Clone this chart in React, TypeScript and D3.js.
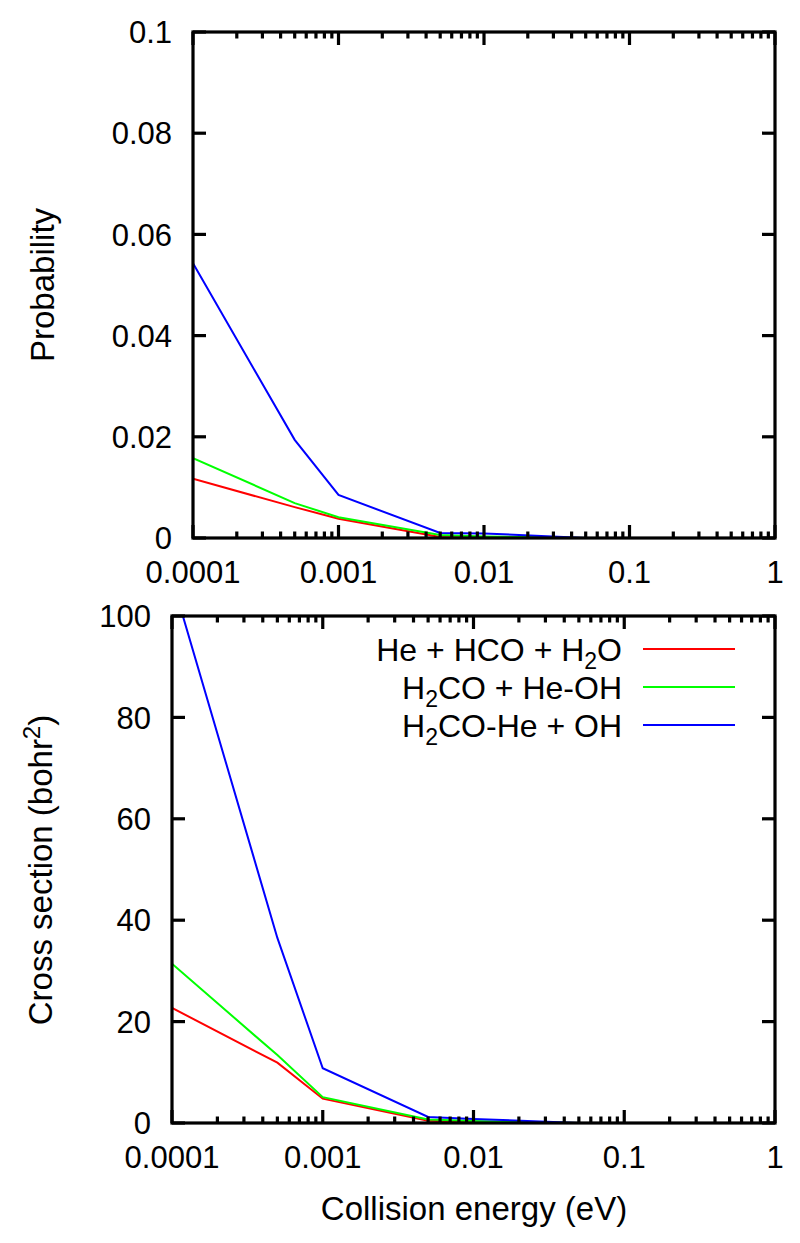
import React from "react";
import * as d3 from "d3";

const energies = [0.0001, 0.0005, 0.001, 0.005, 0.01, 0.05, 0.1, 0.5, 1];
const probRed = [0.0117, 0.0061, 0.0038, 0.0002, 0.0001, 0, 0, 0, 0];
const probGreen = [0.0158, 0.0069, 0.0041, 0.0006, 0.0003, 0, 0, 0, 0];
const probBlue = [0.0543, 0.0194, 0.0085, 0.001, 0.0009, 0, 0, 0, 0];
const csRed = [22.7, 11.9, 4.8, 0.45, 0.2, 0, 0, 0, 0];
const csGreen = [31.4, 13.4, 5.1, 0.7, 0.4, 0, 0, 0, 0];
const csBlue = [107.3, 36.5, 10.8, 1.2, 0.8, 0, 0, 0, 0];
const seriesColors = ["#ff0000", "#00ff00", "#0000ff"];
const xTickValues = [0.0001, 0.001, 0.01, 0.1, 1];
const xTickLabels = ["0.0001", "0.001", "0.01", "0.1", "1"];
const probTicks = [0, 0.02, 0.04, 0.06, 0.08, 0.1];
const probTickLabels = ["0", "0.02", "0.04", "0.06", "0.08", "0.1"];
const csTicks = [0, 20, 40, 60, 80, 100];
const csTickLabels = ["0", "20", "40", "60", "80", "100"];

const FONT = "'Liberation Sans', Arial, sans-serif";
const FS = 31;
const LFS = 32;
const AFS = 33;

type Panel = {
  left: number;
  right: number;
  top: number;
  bottom: number;
  yMax: number;
  yTicks: number[];
  yTickLabels: string[];
  series: number[][];
  id: string;
};

function PanelView({ p }: { p: Panel }) {
  const x = d3.scaleLog().domain([0.0001, 1]).range([p.left, p.right]);
  const y = d3.scaleLinear().domain([0, p.yMax]).range([p.bottom, p.top]);
  const line = d3
    .line<number>()
    .x((_, i) => x(energies[i]))
    .y((d) => y(d));
  const minor: number[] = [];
  for (let e = -4; e < 0; e++) {
    for (let k = 2; k <= 9; k++) minor.push(k * Math.pow(10, e));
  }
  const major = 13;
  const minLen = 6.5;
  const sw = 3.2;
  return (
    <g>
      <defs>
        <clipPath id={p.id}>
          <rect x={p.left} y={p.top} width={p.right - p.left} height={p.bottom - p.top} />
        </clipPath>
      </defs>
      <g clipPath={`url(#${p.id})`}>
        {p.series.map((s, i) => (
          <path key={i} d={line(s) || ""} fill="none" stroke={seriesColors[i]} strokeWidth={2} />
        ))}
      </g>
      {xTickValues.map((v, i) => (
        <g key={"xM" + i}>
          <line x1={x(v)} x2={x(v)} y1={p.bottom} y2={p.bottom - major} stroke="#000" strokeWidth={sw} />
          <line x1={x(v)} x2={x(v)} y1={p.top} y2={p.top + major} stroke="#000" strokeWidth={sw} />
        </g>
      ))}
      {minor.map((v, i) => (
        <g key={"xm" + i}>
          <line x1={x(v)} x2={x(v)} y1={p.bottom} y2={p.bottom - minLen} stroke="#000" strokeWidth={sw} />
          <line x1={x(v)} x2={x(v)} y1={p.top} y2={p.top + minLen} stroke="#000" strokeWidth={sw} />
        </g>
      ))}
      {p.yTicks.map((v, i) => (
        <g key={"y" + i}>
          <line x1={p.left} x2={p.left + major} y1={y(v)} y2={y(v)} stroke="#000" strokeWidth={sw} />
          <line x1={p.right} x2={p.right - major} y1={y(v)} y2={y(v)} stroke="#000" strokeWidth={sw} />
          <text x={p.left - 21} y={y(v)} dy="0.36em" textAnchor="end" fontSize={FS} fontFamily={FONT}>
            {p.yTickLabels[i]}
          </text>
        </g>
      ))}
      {xTickValues.map((v, i) => (
        <text key={"xl" + i} x={x(v)} y={p.bottom + 45} textAnchor="middle" fontSize={FS} fontFamily={FONT}>
          {xTickLabels[i]}
        </text>
      ))}
      <rect
        x={p.left}
        y={p.top}
        width={p.right - p.left}
        height={p.bottom - p.top}
        fill="none"
        stroke="#000"
        strokeWidth={sw}
      />
    </g>
  );
}

export default function App() {
  const top: Panel = {
    left: 193,
    right: 775,
    top: 32,
    bottom: 538,
    yMax: 0.1,
    yTicks: probTicks,
    yTickLabels: probTickLabels,
    series: [probRed, probGreen, probBlue],
    id: "clipTop",
  };
  const bot: Panel = {
    left: 172,
    right: 775,
    top: 616,
    bottom: 1123,
    yMax: 100,
    yTicks: csTicks,
    yTickLabels: csTickLabels,
    series: [csRed, csGreen, csBlue],
    id: "clipBot",
  };
  const legendRows = [649, 687, 725];
  const textEnd = 622;
  const subFs = 23;
  return (
    <svg width={800} height={1243} style={{ position: "absolute", left: 0, top: 0, background: "#fff" }}>
      <rect x={0} y={0} width={800} height={1243} fill="#fff" />
      <PanelView p={top} />
      <PanelView p={bot} />
      <text x={textEnd} y={legendRows[0]} dy="0.36em" textAnchor="end" fontSize={LFS} fontFamily={FONT}>
        <tspan>He + HCO + H</tspan>
        <tspan dy={8} fontSize={subFs}>2</tspan>
        <tspan dy={-8}>O</tspan>
      </text>
      <text x={textEnd} y={legendRows[1]} dy="0.36em" textAnchor="end" fontSize={LFS} fontFamily={FONT}>
        <tspan>H</tspan>
        <tspan dy={8} fontSize={subFs}>2</tspan>
        <tspan dy={-8}>CO + He-OH</tspan>
      </text>
      <text x={textEnd} y={legendRows[2]} dy="0.36em" textAnchor="end" fontSize={LFS} fontFamily={FONT}>
        <tspan>H</tspan>
        <tspan dy={8} fontSize={subFs}>2</tspan>
        <tspan dy={-8}>CO-He + OH</tspan>
      </text>
      {legendRows.map((ry, i) => (
        <line key={i} x1={643} x2={735} y1={ry} y2={ry} stroke={seriesColors[i]} strokeWidth={2} />
      ))}
      <text
        transform="translate(42,285) rotate(-90)"
        textAnchor="middle"
        dy="0.36em"
        fontSize={AFS}
        fontFamily={FONT}
      >
        Probability
      </text>
      <text
        transform="translate(40,870) rotate(-90)"
        textAnchor="middle"
        dy="0.36em"
        fontSize={AFS}
        fontFamily={FONT}
      >
        <tspan>Cross section (bohr</tspan>
        <tspan dy={-12} fontSize={24}>2</tspan>
        <tspan dy={12}>)</tspan>
      </text>
      <text x={474} y={1220} textAnchor="middle" fontSize={AFS} fontFamily={FONT}>
        Collision energy (eV)
      </text>
    </svg>
  );
}
